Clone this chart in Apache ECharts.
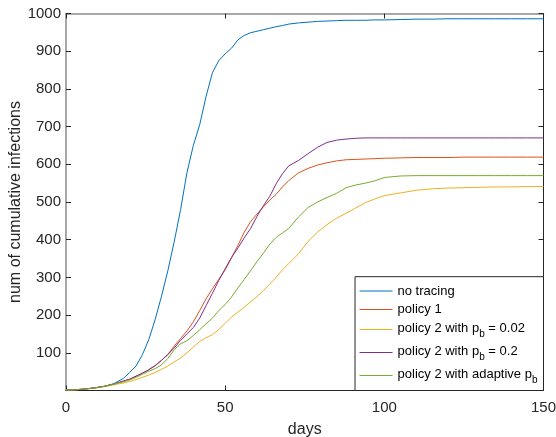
<!DOCTYPE html>
<html>
<head>
<meta charset="utf-8">
<script src="https://cdn.jsdelivr.net/npm/echarts@6/dist/echarts.min.js"></script>
<style>
  html, body { margin: 0; padding: 0; background: #fff; }
  #chart { width: 556px; height: 437px; }
</style>
</head>
<body>
<div id="chart"></div>
<script>
// Sample days (x) and cumulative infections per policy (y)
const days = [0,3,6,9,12,15,18,20,22,24,26,28,30,32,34,36,38,40,42,44,46,48,50,52,54,56,58,60,62,64,66,68,70,73,76,79,82,85,88,91,94,97,100,105,110,115,120,125,130,135,140,145,150];

const noTracing = [1,2,4,7,11,18,32,48,65,95, 135,188,250,318,395,480,578,650,705,780, 843,875,893,908,930,942,949,953,957,961, 965,968,972,975,977,979,980,981,982,982, 982,983,983,984,985,985,986,986,986,986, 986,986,986];

const policy1 = [1,2,4,7,11,17,25,30,38,46, 55,66,80,96,118,138,158,182,212,243, 270,295,320,352,385,420,448,468,487,505, 520,540,557,577,589,598,604,609,612,613, 614,615,616,617,618,618,618,619,619,619, 619,619,619];

const policy2pb002 = [1,2,4,6,10,15,20,24,29,35, 41,48,56,65,76,86,100,115,130,140, 148,162,178,195,208,221,235,249,265,282, 300,320,337,362,395,420,440,457,470,484, 498,508,517,524,531,535,537,538,539,540, 540,541,541];

const policy2pb02 = [1,2,4,7,11,17,25,30,38,46, 55,66,80,95,113,133,150,167,192,225, 258,292,323,353,378,405,430,462,490,515, 548,575,596,610,628,645,658,664,667,669, 670,670,670,670,670,670,670,670,670,670, 670,670,670];

const policy2adaptive = [1,2,4,7,11,17,23,28,35,43, 51,58,68,85,108,124,132,146,161,177, 192,212,228,248,272,295,318,342,364,388, 406,418,430,460,485,500,512,523,538,545, 550,556,565,569,570,570,570,570,570,570, 570,570,570];

const xTicks = [0, 50, 100, 150];
const yTicks = [100,200,300,400,500,600,700,800,900,1000];

const seriesNames = ['no tracing', 'policy 1', 'policy 2 with p_b = 0.02', 'policy 2 with p_b = 0.2', 'policy 2 with adaptive p_b'];
const seriesValues = [noTracing, policy1, policy2pb002, policy2pb02, policy2adaptive];
const colors = ['#0072BD', '#D95319', '#EDB120', '#7E2F8E', '#77AC30'];

const legendRich = {
  'no tracing': '{n|no tracing}',
  'policy 1': '{n|policy 1}',
  'policy 2 with p_b = 0.02': '{m|policy 2 with p}{s|b}{m| = 0.02}',
  'policy 2 with p_b = 0.2': '{m|policy 2 with p}{s|b}{m| = 0.2}',
  'policy 2 with adaptive p_b': '{m|policy 2 with adaptive p}{s|b}'
};

const FONT = 'Liberation Sans, Arial, Helvetica, sans-serif';
const AX = '#262626';

const chart = echarts.init(document.getElementById('chart'), null, { renderer: 'canvas' });

const series = seriesNames.map((name, i) => ({
  name: name,
  type: 'line',
  symbol: 'none',
  showSymbol: false,
  xAxisIndex: 0,
  yAxisIndex: 0,
  lineStyle: { width: 1, color: colors[i] },
  itemStyle: { color: colors[i] },
  data: days.map((d, k) => [d, seriesValues[i][k]]),
  animation: false,
  z: 2
}));

chart.setOption({
  backgroundColor: '#ffffff',
  animation: false,
  grid: { left: 66, right: 12.5, top: 13.5, bottom: 46.5, containLabel: false, outerBoundsMode: 'none' },
  xAxis: [
    {
      type: 'value', min: 0, max: 150, interval: 50, position: 'bottom',
      name: 'days', nameLocation: 'middle', nameGap: 31, nameMoveOverlap: false,
      nameTextStyle: { fontFamily: FONT, fontSize: 16, color: AX },
      axisLine: { show: true, onZero: false, lineStyle: { color: AX, width: 1 } },
      axisTick: { show: true, inside: true, length: 5, lineStyle: { color: AX } },
      axisLabel: { show: true, margin: 10, fontFamily: FONT, fontSize: 15, color: AX,
        formatter: v => xTicks.includes(v) ? String(v) : '' },
      splitLine: { show: false }
    },
    {
      type: 'value', min: 0, max: 150, interval: 50, position: 'top',
      axisLine: { show: true, onZero: false, lineStyle: { color: '#8a8a8a', width: 1.5 } },
      axisTick: { show: true, inside: true, length: 5, lineStyle: { color: AX } },
      axisLabel: { show: false },
      splitLine: { show: false }
    }
  ],
  yAxis: [
    {
      type: 'value', min: 0, max: 1000, interval: 100, position: 'left',
      name: 'num of cumulative infections', nameLocation: 'middle', nameGap: 42, nameMoveOverlap: false,
      nameTextStyle: { fontFamily: FONT, fontSize: 16, color: AX },
      axisLine: { show: true, onZero: false, lineStyle: { color: '#8a8a8a', width: 1.5 } },
      axisTick: { show: true, inside: true, length: 5, lineStyle: { color: AX } },
      axisLabel: { show: true, margin: 5, fontFamily: FONT, fontSize: 15, color: AX,
        formatter: v => yTicks.includes(v) ? String(v) : '' },
      splitLine: { show: false }
    },
    {
      type: 'value', min: 0, max: 1000, interval: 100, position: 'right',
      axisLine: { show: true, onZero: false, lineStyle: { color: AX, width: 1 } },
      axisTick: { show: true, inside: true, length: 5, lineStyle: { color: AX } },
      axisLabel: { show: false },
      splitLine: { show: false }
    }
  ],
  legend: {
    data: seriesNames,
    orient: 'vertical',
    right: 12.5,
    bottom: 46.5,
    padding: [7.8, 6, 5.5, 4],
    itemWidth: 33,
    itemHeight: 16,
    itemGap: 5.5,
    itemTextGap: 4,
    align: 'left',
    backgroundColor: '#ffffff',
    borderColor: AX,
    borderWidth: 1,
    borderRadius: 0,
    selectedMode: false,
    itemStyle: { opacity: 0, borderWidth: 0 },
    lineStyle: { width: 1, opacity: 1 },
    formatter: name => legendRich[name],
    textStyle: {
      fontFamily: FONT, fontSize: 13, color: '#000',
      rich: {
        n: { fontFamily: FONT, fontSize: 13, color: '#000', height: 16, verticalAlign: 'top' },
        m: { fontFamily: FONT, fontSize: 13, color: '#000', height: 16, padding: [3.5, 0, 0, 0], verticalAlign: 'top' },
        s: { fontFamily: FONT, fontSize: 10, color: '#000', height: 10, padding: [12.5, 0, 3.5, 0], verticalAlign: 'top' }
      }
    }
  },
  series: series
});
</script>
</body>
</html>
